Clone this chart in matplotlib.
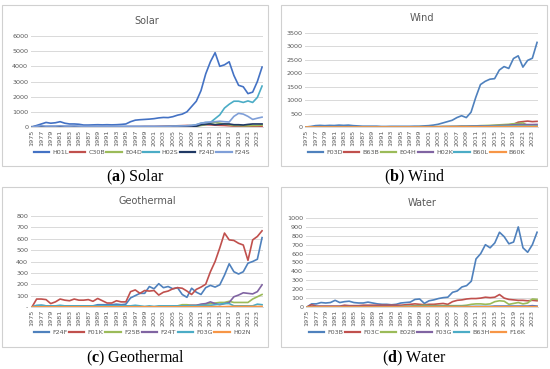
import numpy as np
import matplotlib
matplotlib.use('Agg')
import matplotlib.pyplot as plt
from matplotlib.patches import Rectangle

years = list(range(1975, 2025))

# Solar
solar_names = ["H01L", "C30B", "E04D", "H02S", "F24D", "F24S"]
h01l = [0, 100, 200, 300, 250, 280, 350, 250, 200, 200, 180, 130, 130, 140, 150, 140, 150, 140, 150, 170,
        200, 350, 450, 480, 500, 520, 550, 600, 630, 620, 680, 780, 850, 1000, 1350, 1700, 2400, 3500, 4300, 4900,
        4000, 4100, 4300, 3400, 2750, 2650, 2200, 2300, 3000, 3950]
c30b = [0, 10, 10, 10, 10, 10, 10, 10, 10, 10, 10, 10, 10, 10, 10, 10, 10, 10, 10, 10,
        10, 20, 20, 20, 30, 30, 30, 40, 50, 60, 70, 80, 90, 100, 90, 80, 120, 150, 140, 120,
        110, 100, 80, 60, 60, 50, 50, 40, 45, 50]
e04d = [0, 0, 0, 0, 0, 0, 0, 0, 0, 0, 0, 0, 0, 0, 0, 0, 0, 0, 0, 0,
        0, 0, 5, 5, 5, 5, 5, 10, 10, 10, 15, 20, 30, 40, 50, 60, 100, 150, 250, 300,
        250, 200, 150, 100, 100, 80, 80, 100, 100, 130]
h02s = [0, 0, 0, 0, 0, 0, 0, 0, 0, 0, 0, 0, 0, 0, 0, 0, 0, 0, 0, 0,
        0, 0, 5, 5, 5, 10, 10, 10, 20, 30, 40, 50, 60, 80, 100, 150, 250, 300, 300, 550,
        800, 1250, 1500, 1700, 1700, 1620, 1720, 1620, 1950, 2700]
f24d = [20, 20, 20, 20, 30, 30, 30, 30, 30, 30, 20, 20, 20, 20, 20, 20, 20, 20, 20, 20,
        20, 20, 20, 20, 20, 20, 20, 20, 20, 20, 20, 20, 20, 30, 40, 50, 150, 180, 200, 150,
        180, 200, 200, 150, 150, 130, 170, 200, 200, 200]
f24s = [0, 50, 80, 60, 60, 60, 80, 60, 60, 70, 60, 50, 50, 50, 50, 50, 50, 50, 50, 50,
        50, 50, 50, 50, 50, 50, 50, 50, 50, 50, 60, 60, 70, 80, 100, 150, 250, 300, 330, 350,
        380, 350, 330, 700, 900, 850, 700, 500, 580, 650]

# Wind
wind_names = ["F03D", "B63B", "E04H", "H02K", "B60L", "B60K"]
f03d = [0, 20, 50, 60, 50, 60, 55, 70, 60, 70, 50, 40, 30, 30, 30, 30, 20, 20, 25, 25,
        25, 25, 25, 30, 30, 40, 50, 70, 100, 150, 200, 250, 350, 420, 350, 550, 1100, 1580, 1700, 1780,
        1800, 2120, 2250, 2180, 2550, 2650, 2230, 2480, 2560, 3150]
b63b = [0, 5, 5, 5, 5, 5, 5, 5, 5, 5, 5, 5, 5, 5, 5, 5, 5, 5, 5, 5,
        5, 5, 5, 5, 5, 5, 5, 5, 5, 10, 10, 10, 10, 15, 15, 20, 20, 20, 25, 30,
        40, 50, 60, 80, 100, 180, 200, 220, 200, 210]
e04h = [0, 5, 5, 5, 5, 5, 5, 5, 5, 5, 5, 5, 5, 5, 5, 5, 5, 5, 5, 5,
        5, 5, 5, 5, 10, 10, 10, 10, 15, 15, 20, 20, 25, 30, 30, 30, 40, 50, 55, 60,
        70, 80, 90, 100, 120, 130, 150, 60, 60, 60]
h02k = [0, 5, 5, 5, 5, 5, 5, 5, 5, 5, 5, 5, 5, 5, 5, 5, 5, 5, 5, 5,
        5, 5, 5, 5, 5, 10, 10, 10, 10, 15, 15, 20, 20, 25, 25, 30, 35, 40, 40, 45,
        50, 55, 60, 70, 80, 90, 90, 90, 90, 95]
b60l = [0, 5, 5, 5, 5, 5, 5, 5, 5, 5, 5, 5, 5, 5, 5, 5, 5, 5, 5, 5,
        5, 5, 5, 5, 5, 5, 5, 5, 5, 10, 10, 10, 10, 10, 15, 15, 20, 20, 25, 25,
        30, 30, 35, 40, 45, 50, 50, 45, 45, 45]
b60k = [0, 2, 2, 2, 2, 2, 2, 2, 2, 2, 2, 2, 2, 2, 2, 2, 2, 2, 2, 2,
        2, 2, 2, 2, 2, 3, 3, 3, 3, 4, 4, 5, 5, 5, 6, 6, 8, 8, 10, 10,
        12, 12, 14, 15, 16, 18, 18, 20, 20, 20]

# Geothermal
geo_names = ["F24F", "F01K", "F25B", "F24T", "F03G", "H02N"]
f24f = [0, 10, 15, 10, 10, 10, 10, 10, 10, 10, 10, 10, 10, 10, 20, 20, 20, 20, 25, 20,
        25, 80, 100, 120, 120, 180, 160, 205, 170, 180, 160, 170, 110, 85, 165, 130, 110, 170, 190, 175,
        195, 280, 380, 310, 290, 310, 385, 400, 420, 610]
f01k = [0, 70, 70, 65, 30, 45, 70, 60, 55, 70, 60, 60, 65, 50, 75, 55, 35, 35, 55, 45,
        45, 135, 150, 120, 145, 140, 145, 105, 130, 140, 160, 170, 165, 140, 110, 155, 175, 200, 310, 400,
        520, 650, 590, 585, 560, 545, 410, 590, 620, 670]
f25b = [0, 0, 0, 0, 0, 0, 0, 0, 0, 0, 0, 0, 0, 0, 0, 0, 0, 0, 0, 0,
        0, 0, 0, 0, 0, 0, 0, 0, 0, 0, 0, 10, 20, 20, 15, 15, 20, 25, 30, 35,
        40, 40, 50, 40, 40, 40, 40, 70, 90, 110]
f24t = [0, 0, 0, 0, 0, 0, 0, 0, 0, 0, 0, 0, 0, 0, 0, 0, 0, 0, 0, 0,
        0, 0, 0, 0, 0, 0, 0, 0, 0, 0, 5, 5, 10, 10, 15, 15, 25, 30, 45, 30,
        20, 30, 40, 90, 105, 125, 120, 115, 135, 195]
f03g = [0, 15, 15, 10, 10, 10, 15, 10, 10, 10, 10, 10, 10, 10, 10, 10, 10, 10, 10, 10,
        10, 10, 15, 10, 5, 10, 5, 10, 10, 10, 10, 10, 10, 10, 10, 10, 15, 15, 15, 20,
        25, 30, 30, 10, 10, 10, 10, 10, 25, 20]
h02n = [0, 2, 2, 2, 2, 2, 2, 2, 2, 2, 2, 2, 2, 2, 2, 2, 2, 2, 2, 2,
        2, 2, 2, 2, 2, 2, 2, 2, 2, 2, 2, 2, 2, 2, 2, 2, 3, 3, 3, 3,
        3, 3, 5, 5, 5, 5, 5, 5, 5, 5]

# Water
water_names = ["F03B", "F03C", "E02B", "F03G", "B63H", "F16K"]
f03b = [0, 35, 35, 50, 45, 50, 75, 50, 60, 65, 50, 45, 45, 55, 45, 35, 30, 30, 25, 30,
        45, 50, 55, 85, 90, 40, 70, 80, 95, 105, 110, 165, 180, 225, 240, 290, 540, 600, 700, 665,
        720, 840, 790, 710, 730, 900, 665, 615, 700, 840]
f03c = [0, 25, 10, 10, 10, 10, 10, 10, 20, 15, 15, 15, 20, 20, 20, 20, 20, 20, 20, 20,
        20, 25, 30, 35, 30, 25, 30, 30, 35, 40, 30, 60, 75, 80, 90, 95, 95, 100, 110, 105,
        110, 140, 100, 85, 80, 75, 75, 70, 75, 70]
e02b = [0, 0, 0, 0, 0, 0, 0, 0, 0, 0, 0, 0, 0, 0, 0, 0, 0, 0, 0, 0,
        5, 10, 10, 15, 15, 20, 15, 15, 15, 15, 15, 15, 15, 15, 20, 30, 35, 35, 30, 35,
        60, 70, 65, 30, 40, 50, 35, 45, 90, 85]
f03g_w = [0, 5, 5, 5, 5, 5, 5, 5, 5, 5, 5, 5, 5, 5, 5, 5, 5, 5, 5, 5,
          5, 5, 5, 5, 5, 5, 5, 5, 5, 5, 5, 5, 5, 5, 5, 5, 5, 5, 5, 5,
          10, 10, 10, 10, 10, 10, 10, 10, 15, 10]
b63h = [0, 3, 3, 3, 3, 3, 3, 3, 3, 3, 3, 3, 3, 3, 3, 3, 3, 3, 3, 3,
        3, 3, 3, 3, 3, 3, 3, 3, 3, 3, 3, 3, 3, 3, 3, 3, 5, 5, 5, 5,
        5, 5, 5, 5, 5, 5, 5, 5, 5, 5]
f16k = [0, 1, 1, 1, 1, 1, 1, 1, 1, 1, 1, 1, 1, 1, 1, 1, 1, 1, 1, 1,
        1, 1, 1, 1, 1, 1, 1, 1, 1, 1, 1, 1, 1, 1, 1, 1, 2, 2, 2, 2,
        2, 2, 2, 2, 2, 2, 2, 2, 2, 2]

office = ["#4F81BD", "#C0504D", "#9BBB59", "#8064A2", "#4BACC6", "#F79646"]
solar_colors = ["#4472C4", "#C0504D", "#9BBB59", "#4BACC6", "#1F3864", "#7F9FD8"]

W, H = 550, 369
plt.rcParams['mathtext.fontset'] = 'custom'
plt.rcParams['mathtext.rm'] = 'Liberation Serif'
plt.rcParams['mathtext.bf'] = 'Liberation Serif:bold'

fig = plt.figure(figsize=(W / 100, H / 100), dpi=100)
fig.patch.set_facecolor("white")


def fx(px):
    return px / W


def fy(py):
    return 1 - py / H


def panel(box, plot, title, series, names, colors, ymax, ystep, caption, zero_dash=False):
    # box = (left, top, right, bottom) px, plot = (left, top, right, bottom) px
    bl, bt, br, bb = box
    fig.patches.append(Rectangle((fx(bl), fy(bb)), fx(br - bl), (bb - bt) / H,
                                 transform=fig.transFigure, fill=False,
                                 edgecolor="#D0D0D0", lw=0.8))
    pl, pt, pr, pb = plot
    ax = fig.add_axes([fx(pl), fy(pb), fx(pr - pl), (pb - pt) / H])
    x = np.arange(len(years))
    for s, n, c in zip(series, names, colors):
        ax.plot(x, s, color=c, lw=1.2, label=n)
    ax.set_xlim(-0.2, len(years) - 0.8)
    ax.set_ylim(0, ymax)
    ax.set_yticks(np.arange(0, ymax + 1, ystep))
    if zero_dash:
        ax.set_yticklabels(["-"] + [str(v) for v in np.arange(ystep, ymax + 1, ystep)])
    ax.set_xticks(x[::2])
    ax.set_xticklabels([str(y) for y in years[::2]], rotation=90)
    ax.tick_params(axis='both', labelsize=4.6, colors="#595959", length=0, pad=2)
    ax.grid(axis='y', color="#D9D9D9", lw=0.7)
    ax.set_axisbelow(True)
    for sp in ["top", "right", "left"]:
        ax.spines[sp].set_visible(False)
    ax.spines["bottom"].set_color("#D9D9D9")
    ax.spines["bottom"].set_linewidth(0.7)
    fig.text(fx((pl + pr) / 2), fy(pt - 15), title, ha="center", va="center",
             fontsize=7, color="#595959")
    leg = fig.legend(*ax.get_legend_handles_labels(), loc="center", ncol=6,
                     bbox_to_anchor=(fx(pl), fy(pb + 25), fx(pr - pl - 10), 0.0),
                     mode="expand", frameon=False, fontsize=4.6, handlelength=2.4,
                     handletextpad=0.5, borderaxespad=0)
    for t in leg.get_texts():
        t.set_color("#595959")
    for l in leg.get_lines():
        l.set_linewidth(1.6)
    fig.text(fx((bl + br) / 2), fy(bb + 11), caption, ha="center", va="center",
             fontsize=11.5, family="Liberation Serif")
    return ax


panel((2, 5, 268, 166), (31, 36, 263, 127), "Solar",
      [h01l, c30b, e04d, h02s, f24d, f24s], solar_names, solar_colors, 6000, 1000,
      r"($\mathbf{a}$) Solar")
panel((281, 5, 547, 166), (305, 33, 538, 127), "Wind",
      [f03d, b63b, e04h, h02k, b60l, b60k], wind_names, office, 3500, 500,
      r"($\mathbf{b}$) Wind")
panel((2, 187, 268, 347), (31, 216, 263, 307), "Geothermal",
      [f24f, f01k, f25b, f24t, f03g, h02n], geo_names, office, 800, 100,
      r"($\mathbf{c}$) Geothermal", zero_dash=True)
panel((281, 187, 547, 347), (306, 218, 538, 307), "Water",
      [f03b, f03c, e02b, f03g_w, b63h, f16k], water_names, office, 1000, 100,
      r"($\mathbf{d}$) Water")

fig.savefig("out.png", dpi=100)
